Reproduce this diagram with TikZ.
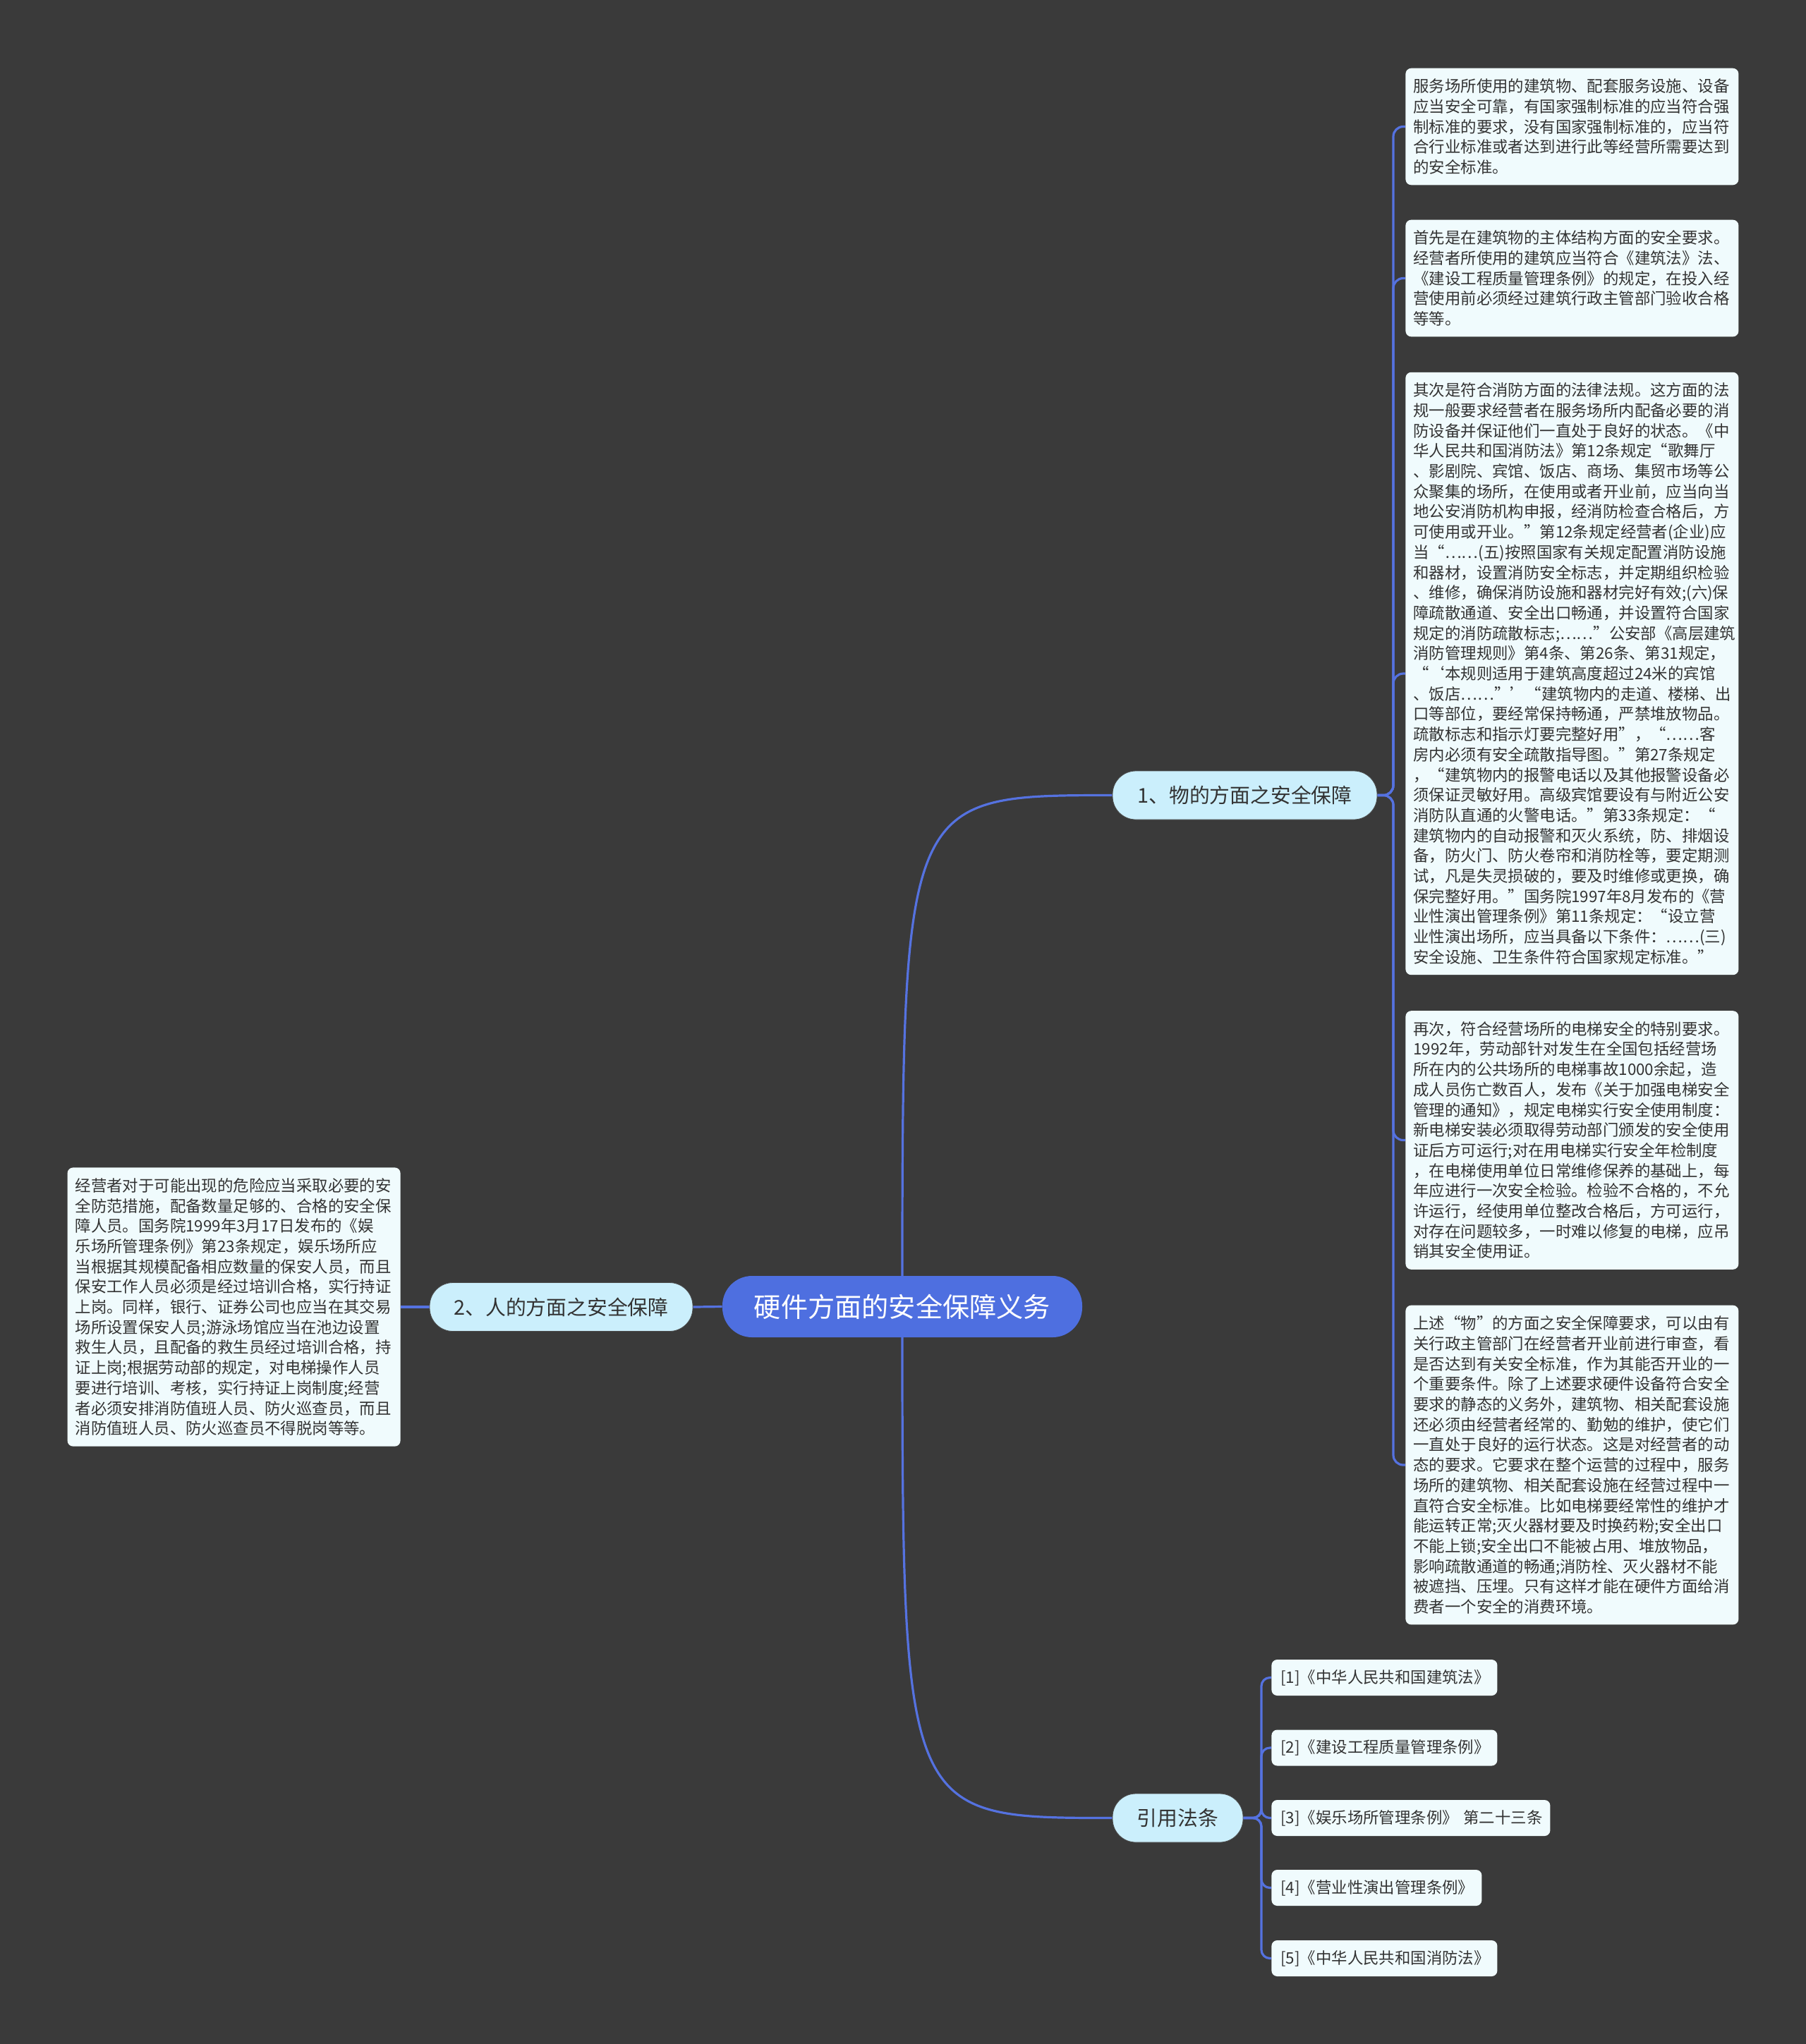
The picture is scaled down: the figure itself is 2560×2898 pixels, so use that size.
\documentclass[tikz,border=0pt]{standalone}
\usepackage{fontspec}
\setmainfont{Noto Sans CJK SC}
\definecolor{bgc}{HTML}{3A3A3A}
\definecolor{linec}{HTML}{5572E0}
\definecolor{centerc}{HTML}{4E6FE0}
\definecolor{nodec}{HTML}{CBEFFC}
\definecolor{boxc}{HTML}{F0FBFD}
\definecolor{textc}{HTML}{333333}
\pgfdeclarelayer{bglayer}
\pgfdeclarelayer{edgelayer}
\pgfsetlayers{bglayer,edgelayer,main}
\begin{document}
\begin{tikzpicture}[x=0.5pt,y=-0.5pt,
  conn/.style={draw=linec, line width=1.6pt},
  pill/.style={rounded corners=16.5pt, fill=nodec, draw=black!70, line width=0.4pt, text=textc, minimum height=34.5pt, inner sep=0pt, font=\fontsize{14.4}{17}\selectfont},
  txtbox/.style={rounded corners=4pt, fill=boxc, text=textc, text width=225pt, align=left, inner xsep=5.5pt, inner ysep=7.5pt, font=\fontsize{11.2}{14.35}\selectfont},
  refbox/.style={rounded corners=4pt, fill=boxc, text=textc, minimum height=25.5pt, inner xsep=6.5pt, inner ysep=0pt, align=left, anchor=west, font=\fontsize{11.2}{14}\selectfont}
]
\begin{pgfonlayer}{bglayer}
\fill[bgc] (0,0) rectangle (2560,2898);
\end{pgfonlayer}
\useasboundingbox (0,0) rectangle (2560,2898);

% central node
\node[fill=centerc, text=white, rounded corners=21pt, minimum width=255pt, minimum height=43.5pt, inner sep=0pt, font=\fontsize{19.1}{21}\selectfont] (c) at (1279,1852.5) {硬件方面的安全保障义务};

% main branches
\node[pill, minimum width=187.5pt] (n1) at (1764.5,1127.5) {1、物的方面之安全保障};
\node[pill, minimum width=186.5pt] (n2) at (795.5,1853) {2、人的方面之安全保障};
\node[pill, minimum width=92.5pt] (n3) at (1669.5,2577.5) {引用法条};

% right text boxes
\node[txtbox, anchor=west] (b1) at (1992,179.5) {服务场所使用的建筑物、配套服务设施、设备\\应当安全可靠，有国家强制标准的应当符合强\\制标准的要求，没有国家强制标准的，应当符\\合行业标准或者达到进行此等经营所需要达到\\的安全标准。};
\node[txtbox, anchor=west] (b2) at (1992,394.5) {首先是在建筑物的主体结构方面的安全要求。\\经营者所使用的建筑应当符合《建筑法》法、\\《建设工程质量管理条例》的规定，在投入经\\营使用前必须经过建筑行政主管部门验收合格\\等等。};
\node[txtbox, anchor=west] (b3) at (1992,955) {其次是符合消防方面的法律法规。这方面的法\\规一般要求经营者在服务场所内配备必要的消\\防设备并保证他们一直处于良好的状态。《中\\华人民共和国消防法》第12条规定“歌舞厅\\、影剧院、宾馆、饭店、商场、集贸市场等公\\众聚集的场所，在使用或者开业前，应当向当\\地公安消防机构申报，经消防检查合格后，方\\可使用或开业。”第12条规定经营者(企业)应\\当“……(五)按照国家有关规定配置消防设施\\和器材，设置消防安全标志，并定期组织检验\\、维修，确保消防设施和器材完好有效;(六)保\\障疏散通道、安全出口畅通，并设置符合国家\\规定的消防疏散标志;……”公安部《高层建筑\\消防管理规则》第4条、第26条、第31规定，\\“‘本规则适用于建筑高度超过24米的宾馆\\、饭店……”’“建筑物内的走道、楼梯、出\\口等部位，要经常保持畅通，严禁堆放物品。\\疏散标志和指示灯要完整好用”，“……客\\房内必须有安全疏散指导图。”第27条规定\\，“建筑物内的报警电话以及其他报警设备必\\须保证灵敏好用。高级宾馆要设有与附近公安\\消防队直通的火警电话。”第33条规定：“\\建筑物内的自动报警和灭火系统，防、排烟设\\备，防火门、防火卷帘和消防栓等，要定期测\\试，凡是失灵损破的，要及时维修或更换，确\\保完整好用。”国务院1997年8月发布的《营\\业性演出管理条例》第11条规定：“设立营\\业性演出场所，应当具备以下条件：……(三)\\安全设施、卫生条件符合国家规定标准。”};
\node[txtbox, anchor=west] (b4) at (1992,1616.5) {再次，符合经营场所的电梯安全的特别要求。\\1992年，劳动部针对发生在全国包括经营场\\所在内的公共场所的电梯事故1000余起，造\\成人员伤亡数百人，发布《关于加强电梯安全\\管理的通知》，规定电梯实行安全使用制度：\\新电梯安装必须取得劳动部门颁发的安全使用\\证后方可运行;对在用电梯实行安全年检制度\\，在电梯使用单位日常维修保养的基础上，每\\年应进行一次安全检验。检验不合格的，不允\\许运行，经使用单位整改合格后，方可运行，\\对存在问题较多，一时难以修复的电梯，应吊\\销其安全使用证。};
\node[txtbox, anchor=west] (b5) at (1992,2077) {上述“物”的方面之安全保障要求，可以由有\\关行政主管部门在经营者开业前进行审查，看\\是否达到有关安全标准，作为其能否开业的一\\个重要条件。除了上述要求硬件设备符合安全\\要求的静态的义务外，建筑物、相关配套设施\\还必须由经营者经常的、勤勉的维护，使它们\\一直处于良好的运行状态。这是对经营者的动\\态的要求。它要求在整个运营的过程中，服务\\场所的建筑物、相关配套设施在经营过程中一\\直符合安全标准。比如电梯要经常性的维护才\\能运转正常;灭火器材要及时换药粉;安全出口\\不能上锁;安全出口不能被占用、堆放物品，\\影响疏散通道的畅通;消防栓、灭火器材不能\\被遮挡、压埋。只有这样才能在硬件方面给消\\费者一个安全的消费环境。};

% left text box
\node[txtbox, anchor=east] (l1) at (568,1853) {经营者对于可能出现的危险应当采取必要的安\\全防范措施，配备数量足够的、合格的安全保\\障人员。国务院1999年3月17日发布的《娱\\乐场所管理条例》第23条规定，娱乐场所应\\当根据其规模配备相应数量的保安人员，而且\\保安工作人员必须是经过培训合格，实行持证\\上岗。同样，银行、证券公司也应当在其交易\\场所设置保安人员;游泳场馆应当在池边设置\\救生人员，且配备的救生员经过培训合格，持\\证上岗;根据劳动部的规定，对电梯操作人员\\要进行培训、考核，实行持证上岗制度;经营\\者必须安排消防值班人员、防火巡查员，而且\\消防值班人员、防火巡查员不得脱岗等等。};

% references
\node[refbox, text width=147pt] (r1) at (1802,2378.5) {[1]《中华人民共和国建筑法》};
\node[refbox, text width=147pt] (r2) at (1802,2478) {[2]《建设工程质量管理条例》};
\node[refbox, text width=184.5pt] (r3) at (1802,2577.5) {\mbox{[3]《娱乐场所管理条例》 第二十三条}};
\node[refbox, text width=136pt] (r4) at (1802,2676.5) {[4]《营业性演出管理条例》};
\node[refbox, text width=147pt] (r5) at (1802,2776.5) {[5]《中华人民共和国消防法》};

\begin{pgfonlayer}{edgelayer}
\draw[conn] (c.center) .. controls (1279,1127.5) and (1279,1127.5) .. (n1.west);
\draw[conn] (c.center) .. controls (1279,2577.5) and (1279,2577.5) .. (n3.west);
\draw[conn] (c.west) -- (n2.east);
\draw[conn] (n2.west) -- (l1.east);
\foreach \b in {b1,b2,b3,b4,b5}{
  \draw[conn, rounded corners=7pt] (n1.east) -| (1975,0 |- \b.west) -- (\b.west);
}
\foreach \r in {r1,r2,r3,r4,r5}{
  \draw[conn, rounded corners=6pt] (n3.east) -| (1788,0 |- \r.west) -- (\r.west);
}
\end{pgfonlayer}
\end{tikzpicture}
\end{document}
